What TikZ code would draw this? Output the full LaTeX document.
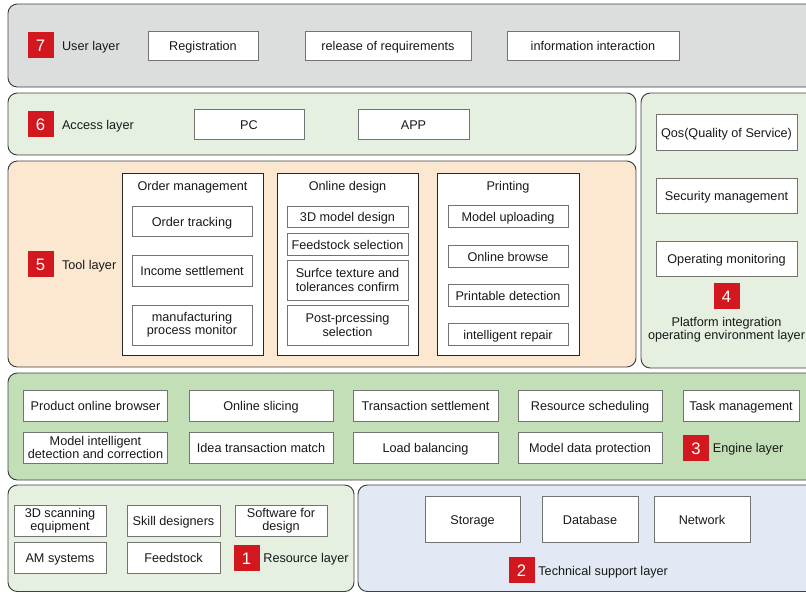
\documentclass[tikz,border=0pt]{standalone}
\usepackage{fontspec}
\setmainfont{Liberation Sans}
\usetikzlibrary{positioning}

\definecolor{userbg}{HTML}{DCDDDD}
\definecolor{accessbg}{HTML}{E5F0E0}
\definecolor{toolbg}{HTML}{FCE7D1}
\definecolor{enginebg}{HTML}{C3DFB7}
\definecolor{techbg}{HTML}{E2E9F4}
\definecolor{badgered}{HTML}{D2171F}

\begin{document}
\begin{tikzpicture}[x=0.75pt, y=-0.75pt,
    % Styles
    layer panel/.style={draw=black!75, line width=0.7pt, rounded corners=7pt, fill=#1},
    item stack/.style={draw=black!55, line width=0.65pt, fill=white, inner sep=1pt, align=center, text=black!90, font=\fontsize{9.5}{9.5}\selectfont},
    item box/.style={item stack, text height=8.8pt, text depth=0.8pt},
    group box/.style={draw=black!85, line width=0.7pt, fill=white},
    sz/.style 2 args={minimum width=#1*0.75pt, minimum height=#2*0.75pt},
    badge/.style={fill=badgered, text=white, minimum size=19.5pt, inner sep=0, text height=10pt, text depth=0pt, font=\fontsize{12.5}{12.5}\selectfont},
    layer label/.style={inner sep=0, text=black!90, text height=8.8pt, text depth=0.8pt, font=\fontsize{9.5}{9.5}\selectfont},
]
    \useasboundingbox (0,0) rectangle (806,593);
    \clip (0,0) rectangle (806,593);

    % Layer panels
    \draw[layer panel=userbg] (8,4) rectangle (816,87);
    \draw[layer panel=accessbg] (8,93) rectangle (636,155);
    \draw[layer panel=accessbg] (641,93) rectangle (816,368);
    \draw[layer panel=toolbg] (8,161) rectangle (636,367);
    \draw[layer panel=enginebg] (8,373) rectangle (816,480);
    \draw[layer panel=accessbg] (8,485) rectangle (354,591.5);
    \draw[layer panel=techbg] (358,485) rectangle (816,591.5);

    % 7 - User layer
    \node[badge] (b7) at (40.5,45) {7};
    \node[layer label, right=6pt of b7] (l7) {User layer};
    \node[item box, sz={110}{29}] (reg) at (203,45.5) {Registration};
    \node[item box, sz={166}{29}] (req) at (388,45.5) {release of requirements};
    \node[item box, sz={172}{29}] (info) at (593,45.5) {information interaction};

    % 6 - Access layer
    \node[badge] (b6) at (40.5,124) {6};
    \node[layer label, right=6pt of b6] (l6) {Access layer};
    \node[item box, sz={110}{30}] (pc) at (249,124) {PC};
    \node[item box, sz={111}{30}] (app) at (413.5,124) {APP};

    % 5 - Tool layer
    \node[badge] (b5) at (40.5,264) {5};
    \node[layer label, right=6pt of b5] (l5) {Tool layer};

    \node[group box, sz={141}{182}] (order) at (192.5,264) {};
    \node[layer label] (order title) at (192.5,185) {Order management};
    \node[item box, sz={120}{30}] (track) at (192,221) {Order tracking};
    \node[item box, sz={120}{31}] (income) at (192,270.5) {Income settlement};
    \node[item stack, sz={120}{40}] (monitor) at (192,325) {manufacturing\\process monitor};

    \node[group box, sz={141}{182}] (design) at (347.5,264) {};
    \node[layer label] (design title) at (347.5,185) {Online design};
    \node[item box, sz={121}{21}] (model) at (347.5,216.5) {3D model design};
    \node[item box, sz={121}{22}] (feed) at (347.5,244) {Feedstock selection};
    \node[item stack, sz={121}{40}, font=\fontsize{9.5}{11}\selectfont] (surf) at (347.5,280) {Surfce texture and\\tolerances confirm};
    \node[item stack, sz={121}{40}, font=\fontsize{9.5}{11}\selectfont] (post) at (347.5,325) {Post-prcessing\\selection};

    \node[group box, sz={142}{182}] (print) at (508,264) {};
    \node[layer label] (print title) at (508,185) {Printing};
    \node[item box, sz={120}{22}] (upload) at (508,216) {Model uploading};
    \node[item box, sz={120}{22}] (browse) at (508,256) {Online browse};
    \node[item box, sz={120}{22}] (detect) at (508,295) {Printable detection};
    \node[item box, sz={120}{22}] (repair) at (508,334) {intelligent repair};

    % 4 - Platform integration layer
    \node[item box, sz={141}{36}] (qos) at (726.5,132) {Qos(Quality of Service)};
    \node[item box, sz={141}{35}] (secure) at (726.5,195.5) {Security management};
    \node[item box, sz={141}{35}] (operate) at (726.5,258.5) {Operating monitoring};
    \node[badge] (b4) at (726.5,295.5) {4};
    \node[layer label, text height=, text depth=, align=center, below=6.5pt of b4] (l4) {Platform integration\\operating environment layer};

    % 3 - Engine layer
    \node[item box, sz={144}{31}] (product) at (95.5,405.5) {Product online browser};
    \node[item box, sz={144}{31}] (slicing) at (261,405.5) {Online slicing};
    \node[item box, sz={145}{31}] (trans) at (425.5,405.5) {Transaction settlement};
    \node[item box, sz={144}{31}] (sched) at (590,405.5) {Resource scheduling};
    \node[item box, sz={116}{31}] (task) at (741,405.5) {Task management};
    \node[item stack, sz={144}{31}] (intel) at (95.5,447.5) {Model intelligent\\detection and correction};
    \node[item box, sz={144}{31}] (idea) at (261,447.5) {Idea transaction match};
    \node[item box, sz={145}{31}] (load) at (425.5,447.5) {Load balancing};
    \node[item box, sz={144}{31}] (protect) at (590,447.5) {Model data protection};
    \node[badge] (b3) at (696,447.5) {3};
    \node[layer label, right=2.5pt of b3] (l3) {Engine layer};

    % 1 - Resource layer
    \node[item stack, sz={92}{31}] (scan) at (60,520.5) {3D scanning\\equipment};
    \node[item box, sz={93}{31}] (skill) at (173.5,520.5) {Skill designers};
    \node[item stack, sz={92}{31}] (soft) at (281,520.5) {Software for\\design};
    \node[item box, sz={92}{31}] (am) at (60,557.5) {AM systems};
    \node[item box, sz={93}{31}] (stock) at (173.5,557.5) {Feedstock};
    \node[badge] (b1) at (246.5,557.5) {1};
    \node[layer label, right=2.5pt of b1] (l1) {Resource layer};

    % 2 - Technical support layer
    \node[item box, sz={95}{46}] (storage) at (472.5,519) {Storage};
    \node[item box, sz={96}{46}] (db) at (590,519) {Database};
    \node[item box, sz={96}{46}] (net) at (702,519) {Network};
    \node[badge] (b2) at (521.5,570) {2};
    \node[layer label, right=2.5pt of b2] (l2) {Technical support layer};
\end{tikzpicture}
\end{document}
